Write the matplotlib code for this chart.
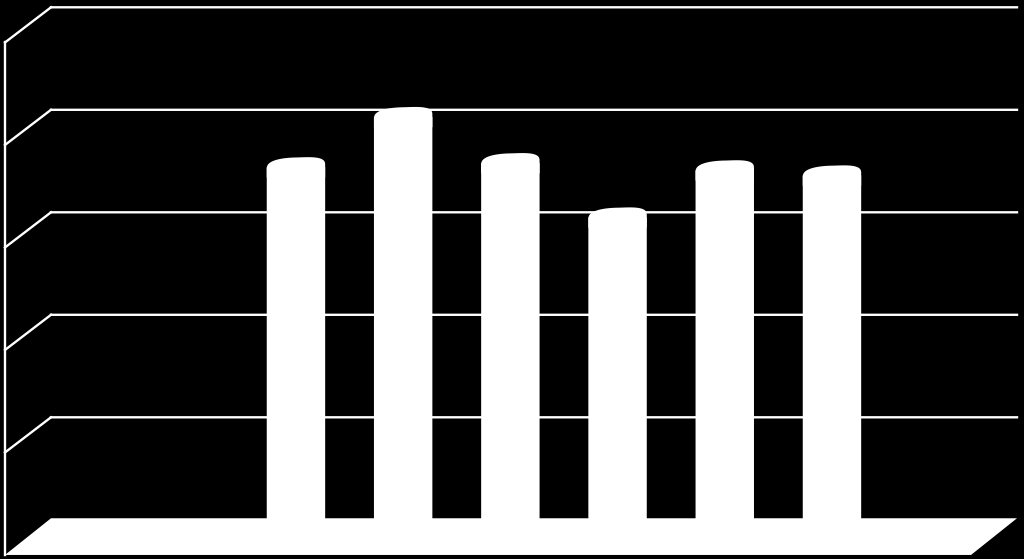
import matplotlib
matplotlib.use('Agg')
import matplotlib.pyplot as plt
import numpy as np

categories = [0, 1, 2, 3, 4, 5]
values = [3.44, 3.93, 3.48, 2.95, 3.41, 3.36]
gridlines = [0, 1, 2, 3, 4, 5]

bar_width = 0.545
# 3d look: how far the front of the chart sits from the back wall, in data units
depth_x = -0.429
depth_y = -0.343
floor_top = 0.015

fig = plt.figure(figsize=(10.24, 5.59), dpi=100, facecolor='black')
ax = fig.add_axes([51 / 1024, 39.2 / 559, 966 / 1024, 512.5 / 559], facecolor='black')
ax.set_xlim(-2.285, 6.726)
ax.set_ylim(0, 5)
for s in ax.spines.values():
    s.set_visible(False)
ax.set_xticks([])
ax.set_yticks([])

# walls
for g in gridlines[1:]:
    ax.plot([-2.285, 6.726], [g, g], color='white', lw=1.7, clip_on=False, zorder=1, snap=False)
    ax.plot([-2.285 + depth_x, -2.285], [g + depth_y, g], color='white', lw=1.7, clip_on=False, zorder=1)
ax.plot([-2.285 + depth_x, -2.285 + depth_x], [depth_y, 5 + depth_y], color='white', lw=1.7,
        clip_on=False, zorder=1)

# floor
ax.fill([-2.285, 6.726, 6.726 + depth_x, -2.285 + depth_x], [floor_top, floor_top, depth_y, depth_y],
        color='white', clip_on=False, zorder=4, lw=0)

# bars
bars = ax.bar(categories, values, width=bar_width, color='white', zorder=3, lw=0)
for b in bars:
    b.set_snap(False)

# rounded, slightly tilted cylinder tops, closed below the bar top so no gap shows
t = np.linspace(0, np.pi, 80)
for c, v in zip(categories, values):
    xs = c + bar_width / 2 * np.sign(np.cos(t)) * np.abs(np.cos(t)) ** 0.7
    ys = v + 0.095 * np.sin(t) ** 0.7 + 0.02 * np.cos(t)
    ax.fill(np.r_[xs, xs[-1], xs[0]], np.r_[ys, v - 0.1, v - 0.1], color='white', zorder=3, lw=0, snap=False)

fig.savefig('out.png', dpi=100, facecolor='black')
